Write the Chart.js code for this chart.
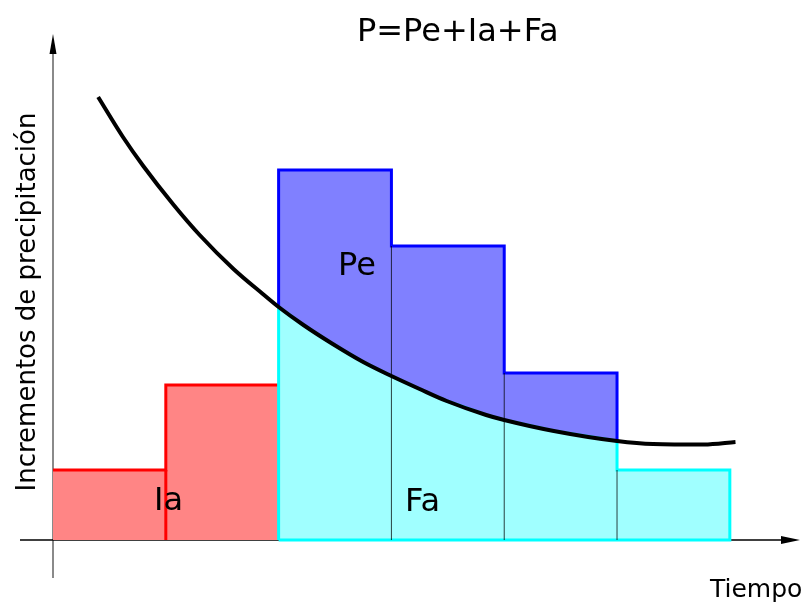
<!DOCTYPE html>
<html>
<head>
<meta charset="utf-8">
<script src="https://cdn.jsdelivr.net/npm/chart.js@4"></script>
<style>
  body { margin: 0; background: #fff; }
  #wrap { width: 807px; height: 602px; }
</style>
</head>
<body>
<div id="wrap"><canvas id="grafico"></canvas></div>
<script>
// bordes de los intervalos de tiempo y altura de cada barra
const bordes = [0, 1, 2, 3, 4, 5, 6];
const precipitacion = [7.0, 15.5, 37.0, 29.4, 16.7, 7.0];
const barrasIa = [0, 1];
const barrasPe = [2, 3, 4];
const barrasFa = [5];

// curva de capacidad de infiltracion
const curvaT = [0.40, 0.62, 0.80, 1.07, 1.30, 1.60, 1.86, 2.00, 2.22, 2.48, 2.75, 3.00, 3.25, 3.49, 3.84, 4.00, 4.44, 5.00, 5.32, 5.77, 6.05];
const curvaF = [44.3, 40.3, 37.4, 33.5, 30.5, 27.1, 24.6, 23.3, 21.5, 19.6, 17.8, 16.4, 15.1, 13.9, 12.5, 12.0, 10.9, 9.9, 9.6, 9.55, 9.8];

const textos = {
    titulo: 'P=Pe+Ia+Fa',
    ejeX: 'Tiempo',
    ejeY: 'Incrementos de precipitación'
};

function curva(t) {
    for (let i = 0; i < curvaT.length - 1; i++) {
        if (t >= curvaT[i] && t <= curvaT[i + 1]) {
            let f = (t - curvaT[i]) / (curvaT[i + 1] - curvaT[i]);
            return curvaF[i] + f * (curvaF[i + 1] - curvaF[i]);
        }
    }
    return curvaF[curvaF.length - 1];
}

// Ia: escalones rojos
let puntosIa = [];
barrasIa.forEach(function (i) {
    puntosIa.push({ x: bordes[i], y: precipitacion[i] });
    puntosIa.push({ x: bordes[i + 1], y: precipitacion[i] });
});

// Pe: escalones azules desde la curva
let t0 = bordes[barrasPe[0]];
let t1 = bordes[barrasPe[barrasPe.length - 1] + 1];
let puntosPe = [{ x: t0, y: curva(t0) }];
barrasPe.forEach(function (i) {
    puntosPe.push({ x: bordes[i], y: precipitacion[i] });
    puntosPe.push({ x: bordes[i + 1], y: precipitacion[i] });
});
puntosPe.push({ x: t1, y: curva(t1) });

// Fa: bajo la curva + ultima barra
let puntosFa = [{ x: t0, y: 0 }, { x: t0, y: curva(t0) }];
for (let i = 0; i < curvaT.length; i++) {
    if (curvaT[i] > t0 && curvaT[i] < t1) puntosFa.push({ x: curvaT[i], y: curvaF[i] });
}
puntosFa.push({ x: t1, y: curva(t1) });
barrasFa.forEach(function (i) {
    puntosFa.push({ x: bordes[i], y: precipitacion[i] });
    puntosFa.push({ x: bordes[i + 1], y: precipitacion[i] });
});
puntosFa.push({ x: bordes[barrasFa[barrasFa.length - 1] + 1], y: 0 });
puntosFa.push({ x: t0, y: 0 });

// divisiones entre barras
function division(i) {
    let h = Math.min(precipitacion[i - 1], precipitacion[i]);
    return [{ x: bordes[i], y: 0 }, { x: bordes[i], y: h }, { x: bordes[i] + 0.5, y: null }];
}
let divNegras = [].concat(division(3), division(4), division(5));
let divRoja = division(1);

let puntosCurva = curvaT.map(function (t, i) { return { x: t, y: curvaF[i] }; });

const ejes = {
    id: 'ejes',
    beforeDatasetsDraw: function (chart) {
        const ctx = chart.ctx;
        const a = chart.chartArea;
        const x0 = chart.scales.x.getPixelForValue(0);
        const y0 = chart.scales.y.getPixelForValue(0);
        ctx.save();
        // eje y
        ctx.strokeStyle = '#8a8a8a';
        ctx.lineWidth = 2;
        ctx.beginPath();
        ctx.moveTo(x0, a.bottom);
        ctx.lineTo(x0, a.top + 6);
        ctx.stroke();
        ctx.fillStyle = '#000';
        ctx.beginPath();
        ctx.moveTo(x0, a.top);
        ctx.lineTo(x0 + 3.5, a.top + 20);
        ctx.lineTo(x0 - 3.5, a.top + 20);
        ctx.closePath();
        ctx.fill();
        // eje x
        ctx.strokeStyle = '#000';
        ctx.lineWidth = 1.5;
        ctx.beginPath();
        ctx.moveTo(a.left, y0);
        ctx.lineTo(a.right - 6, y0);
        ctx.stroke();
        ctx.beginPath();
        ctx.moveTo(a.right, y0);
        ctx.lineTo(a.right - 19, y0 - 4);
        ctx.lineTo(a.right - 19, y0 + 4);
        ctx.closePath();
        ctx.fill();
        ctx.restore();
    },
    afterDraw: function (chart) {
        const ctx = chart.ctx;
        ctx.save();
        ctx.fillStyle = '#000';
        ctx.textBaseline = 'alphabetic';
        ctx.textAlign = 'left';
        ctx.font = '32px "DejaVu Sans"';
        ctx.fillText(textos.titulo, 357, 41);
        ctx.fillText('Pe', 338, 275);
        ctx.fillText('Ia', 154, 510);
        ctx.fillText('Fa', 405, 511);
        ctx.font = '25px "DejaVu Sans"';
        ctx.fillText(textos.ejeX, 710, 597);
        ctx.translate(35, 302);
        ctx.rotate(-Math.PI / 2);
        ctx.textAlign = 'center';
        ctx.font = '26px "DejaVu Sans"';
        ctx.fillText(textos.ejeY, 0, 0);
        ctx.restore();
    }
};

new Chart(document.getElementById('grafico'), {
    type: 'line',
    data: {
        datasets: [
            {
                label: 'curva',
                data: puntosCurva,
                borderColor: '#000',
                borderWidth: 4,
                cubicInterpolationMode: 'monotone',
                pointRadius: 0,
                fill: false,
                order: 0
            },
            {
                label: 'div',
                data: divNegras,
                borderColor: 'rgba(0,0,0,0.75)',
                borderWidth: 1,
                pointRadius: 0,
                spanGaps: false,
                fill: false,
                order: 1
            },
            {
                label: 'divIa',
                data: divRoja,
                borderColor: '#ff0000',
                borderWidth: 3,
                pointRadius: 0,
                spanGaps: false,
                fill: false,
                order: 1
            },
            {
                label: 'Fa',
                data: puntosFa,
                borderColor: '#00ffff',
                backgroundColor: '#a0ffff',
                borderWidth: 3,
                pointRadius: 0,
                fill: 'shape',
                order: 2
            },
            {
                label: 'Pe',
                data: puntosPe,
                borderColor: '#0000ff',
                backgroundColor: '#8080ff',
                borderWidth: 3,
                pointRadius: 0,
                fill: 'origin',
                order: 3
            },
            {
                label: 'Ia',
                data: puntosIa,
                borderColor: '#ff0000',
                backgroundColor: '#ff8585',
                borderWidth: 3,
                pointRadius: 0,
                fill: 'origin',
                order: 4
            }
        ]
    },
    options: {
        responsive: true,
        maintainAspectRatio: false,
        animation: false,
        layout: { padding: { left: 20, right: 7, top: 34, bottom: 24 } },
        scales: {
            x: { type: 'linear', min: -0.2926, max: 6.622, display: false },
            y: { type: 'linear', min: -3.8, max: 50.6, display: false }
        },
        plugins: {
            legend: { display: false },
            tooltip: { enabled: false }
        }
    },
    plugins: [ejes]
});
</script>
</body>
</html>
